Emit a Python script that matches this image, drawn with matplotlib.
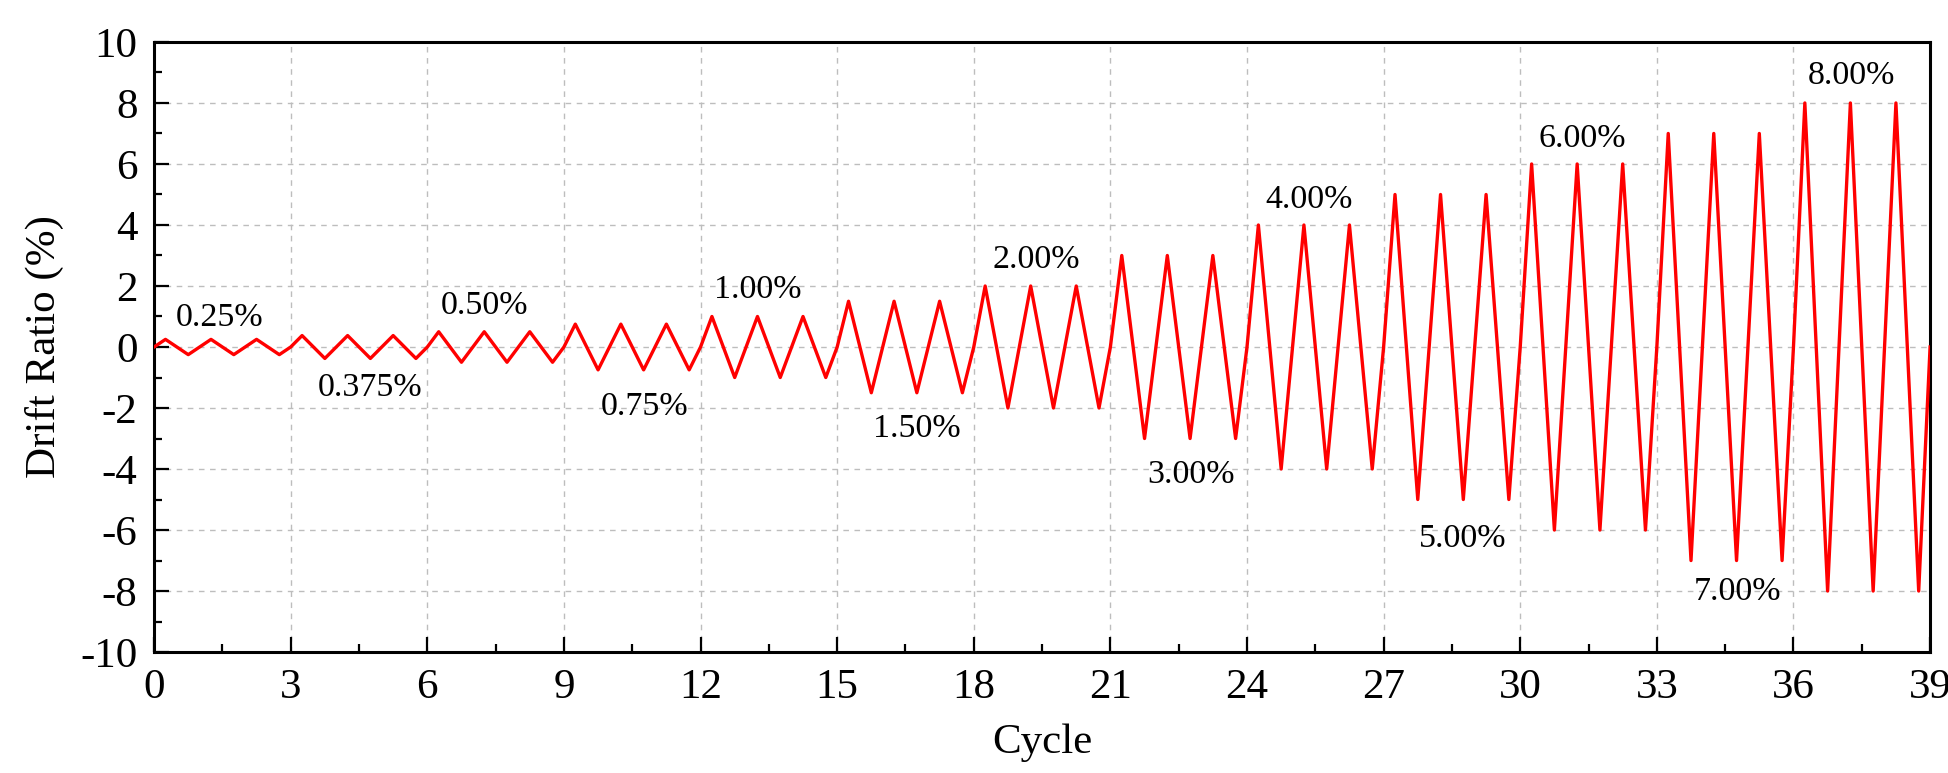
import numpy as np
import matplotlib
matplotlib.use("Agg")
import matplotlib.pyplot as plt
from matplotlib.ticker import MultipleLocator

plt.rcParams['font.family'] = ['Liberation Serif', 'DejaVu Serif']
plt.rcParams['axes.unicode_minus'] = False

# drift levels, three cycles each
levels = [0.25, 0.375, 0.5, 0.75, 1.0, 1.5, 2.0, 3.0, 4.0, 5.0, 6.0, 7.0, 8.0]
cycles_per_level = 3

# label text and where it sits (cycle, drift)
label_text = ["0.25%", "0.375%", "0.50%", "0.75%", "1.00%", "1.50%", "2.00%",
              "3.00%", "4.00%", "5.00%", "6.00%", "7.00%", "8.00%"]
label_x = [1.44, 4.74, 7.26, 10.78, 13.26, 16.75, 19.37, 22.77, 25.37, 28.73, 31.36, 34.77, 37.27]
label_y = [0.95, -1.34, 1.36, -1.95, 1.89, -2.68, 2.85, -4.2, 4.82, -6.3, 6.82, -8.03, 8.89]

# build the loading history: 0 -> +A -> -A -> 0 each cycle
t = [0.0]
d = [0.0]
k = 0
for a in levels:
    for c in range(cycles_per_level):
        t += [k + 0.25, k + 0.75, k + 1.0]
        d += [a, -a, 0.0]
        k += 1

fig = plt.figure(figsize=(19.48, 7.73), dpi=100)
ax = fig.add_axes([0.0791, 0.1565, 0.9117, 0.7892])

ax.plot(t, d, color='red', lw=2.4, zorder=3)

for s, x, y in zip(label_text, label_x, label_y):
    ax.text(x, y, s, ha='center', va='center', fontsize=24.5, zorder=4)

ax.set_xlim(0, 39)
ax.set_ylim(-10, 10)
ax.xaxis.set_major_locator(MultipleLocator(3))
ax.xaxis.set_minor_locator(MultipleLocator(1.5))
ax.yaxis.set_major_locator(MultipleLocator(2))
ax.yaxis.set_minor_locator(MultipleLocator(1))

ax.grid(True, which='major', color='#bdbdbd', linestyle=(0, (4, 4)), lw=1.0)
ax.tick_params(which='both', direction='in', top=False, right=False, width=1.6, labelsize=31, pad=12)
ax.tick_params(which='major', length=11)
ax.tick_params(which='minor', length=6)
for sp in ax.spines.values():
    sp.set_linewidth(2.2)

ax.set_xlabel("Cycle", fontsize=31, labelpad=12)
ax.set_ylabel("Drift Ratio (%)", fontsize=31, labelpad=12)

fig.savefig("out.png", dpi=100)
